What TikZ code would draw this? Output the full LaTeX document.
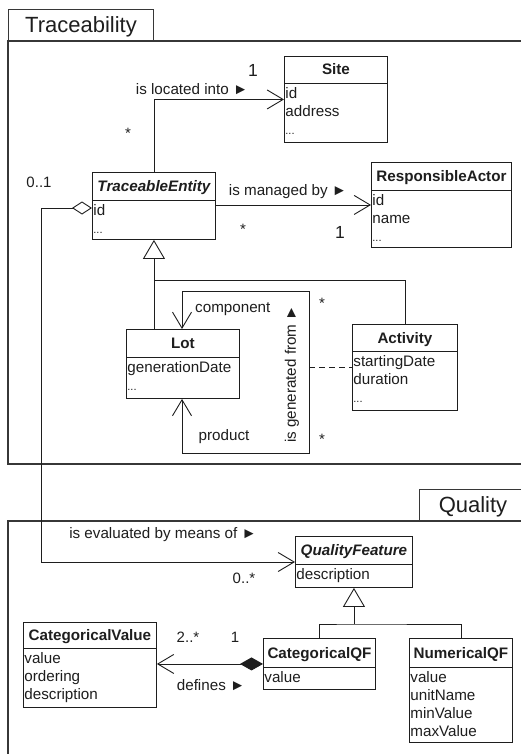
\documentclass[tikz,border=0pt]{standalone}
\usepackage{fontspec}
\setmainfont{Liberation Sans}
\usetikzlibrary{arrows.meta,calc}
\definecolor{ink}{RGB}{30,30,30}
\definecolor{framec}{RGB}{55,55,55}
\newcommand{\fattr}{\fontsize{15.2}{17}\selectfont}
\newcommand{\ddd}{{\fontsize{11}{11}\selectfont ...}}
\tikzset{
  ln/.style={line width=0.9pt, draw=ink},
  frame/.style={line width=1.3pt, draw=framec},
  classbox/.style={ln, rectangle, inner sep=0pt},
  titletxt/.style={font=\fattr\bfseries, inner sep=0pt, text=ink},
  attrtxt/.style={font=\fattr, inner sep=0pt, text=ink},
  lbl/.style={font=\fattr, inner sep=0pt, text=ink},
  mult/.style={font=\fontsize{15}{17}\selectfont, inner sep=0pt, text=ink},
  bigmult/.style={font=\fontsize{17.5}{19}\selectfont, inner sep=0pt, text=ink},
  tabtxt/.style={font=\fontsize{22}{24}\selectfont, inner sep=0pt, text=ink},
  assoc/.style={ln, -{Straight Barb[length=16pt,width=19pt]}},
  gen/.style={ln, -{Triangle[open,length=19pt,width=22pt]}},
  aggr/.style={ln, {Diamond[open,length=20pt,width=13pt]}-{Straight Barb[length=16pt,width=19pt]}},
  compo/.style={ln, {Diamond[fill=ink,length=23pt,width=13pt]}-{Straight Barb[length=16pt,width=19pt]}},
  selfassoc/.style={ln, {Straight Barb[length=16pt,width=19pt]}-{Straight Barb[length=16pt,width=19pt]}},
  dashedlink/.style={ln, dash pattern=on 6pt off 4pt},
}
% #1 name, #2 x, #3 y, #4 w, #5 h, #6 header h, #7 title, #8 attribute list
\newcommand{\umlbox}[8]{%
  \node[classbox, draw, minimum width=#4pt, minimum height=#5pt, anchor=north west] (#1) at (#2,#3) {};
  \draw[ln] ($(#1.north west)+(0,#6)$) -- ($(#1.north east)+(0,#6)$);
  \node[titletxt, anchor=base] (#1-t) at ($(#1.north)+(0,#6/2+5.5)$) {#7};
  \foreach \a [count=\i] in {#8} {%
    \node[attrtxt, anchor=base west] (#1-a\i) at ($(#1.north west)+(1.2,#6+15.5+18*\i-18)$) {\a};
  }%
}
\begin{document}
\begin{tikzpicture}[x=1pt,y=-1pt]
\useasboundingbox (0,0) rectangle (521,754);
\clip (0,0) rectangle (521,754);
\fill[white] (0,0) rectangle (521,754);

% ---------- frames ----------
\node[frame, draw, rectangle, inner sep=0pt, minimum width=145pt, minimum height=32pt, anchor=north west] (tracetab) at (8,9) {};
\node[tabtxt, anchor=base] (tracetxt) at (81,33) {Traceability};
\draw[frame] (8,41) rectangle (560,464);

\node[frame, draw, rectangle, inner sep=0pt, minimum width=140pt, minimum height=32pt, anchor=north west] (qualtab) at (419,489) {};
\node[tabtxt, anchor=base] (qualtxt) at (473,512) {Quality};
\draw[frame] (8,521) rectangle (560,800);

% ---------- classes ----------
\umlbox{site}{284}{56}{103}{86}{27}{Site}{id,address,\ddd}
\umlbox{ra}{371}{162}{140}{85}{28}{ResponsibleActor}{id,name,\ddd}
\umlbox{te}{92}{172}{123}{67}{28}{\itshape TraceableEntity}{id,\ddd}
\umlbox{lot}{126}{329}{113}{69}{28}{Lot}{generationDate,\ddd}
\umlbox{act}{352}{324}{105}{86}{27}{Activity}{startingDate,duration,\ddd}
\umlbox{qf}{295}{536}{117}{51}{28}{\itshape QualityFeature}{description}
\umlbox{cv}{23}{622}{133}{85}{26}{CategoricalValue}{value,ordering,description}
\umlbox{cqf}{263}{638}{112}{51}{29}{CategoricalQF}{value}
\umlbox{nqf}{409}{638}{103}{104}{29}{NumericalQF}{value,unitName,minValue,maxValue}

% ---------- connectors ----------
\draw[assoc] (te.north) |- (site.west);
\draw[assoc] (te.east |- ra.west) -- (ra.west);
\draw[gen] (lot.north -| te.south) -- (te.south);
\draw[ln] (te.south |- 0,280) -| (act.north);

\coordinate (lpTL) at (182,291);
\coordinate (lpTR) at (309,291);
\coordinate (lpBR) at (309,453);
\coordinate (lpBL) at (182,453);
\draw[selfassoc] (lot.north -| lpTL) -- (lpTL) -- (lpTR) -- (lpBR) -- (lpBL) -- (lot.south -| lpBL);
\draw[dashedlink] (act.west -| lpTR) -- (act.west);

\coordinate (evA) at (41,208);
\coordinate (evB) at (41,562);
\draw[aggr] (te.west |- evA) -- (evA) -- (evB) -- (qf.west |- evB);

\coordinate (qfbar) at (353.5,624);
\draw[gen] (qf.south |- qfbar) -- (qf.south);
\draw[ln] (cqf.north) |- (qfbar) -| (nqf.north);

\draw[compo] (cqf.west) -- (cv.east |- cqf.west);

% ---------- labels ----------
\node[bigmult] (m1) at (253,70) {1};
\node[lbl] (l1) at (192,89) {is located into ►};
\node[mult] (m2) at (128,133) {*};
\node[mult] (m3) at (39,182) {0..1};
\node[lbl] (l2) at (288,192) {is managed by ►};
\node[mult] (m4) at (243,229) {*};
\node[bigmult] (m5) at (340,232) {1};
\node[lbl, anchor=base west] (l3) at (195,312) {component};
\node[mult] (m6) at (322,303) {*};
\node[mult] (m7) at (322,439) {*};
\node[lbl, rotate=90] (l4) at (292,374) {is generated from ►};
\node[lbl] (l5) at (224,437) {product};
\node[lbl] (l6) at (163,535) {is evaluated by means of ►};
\node[mult] (m8) at (244,578) {0..*};
\node[mult] (m9) at (188,637) {2..*};
\node[mult] (m10) at (235,637) {1};
\node[lbl] (l7) at (211,685) {defines ►};
\end{tikzpicture}
\end{document}
